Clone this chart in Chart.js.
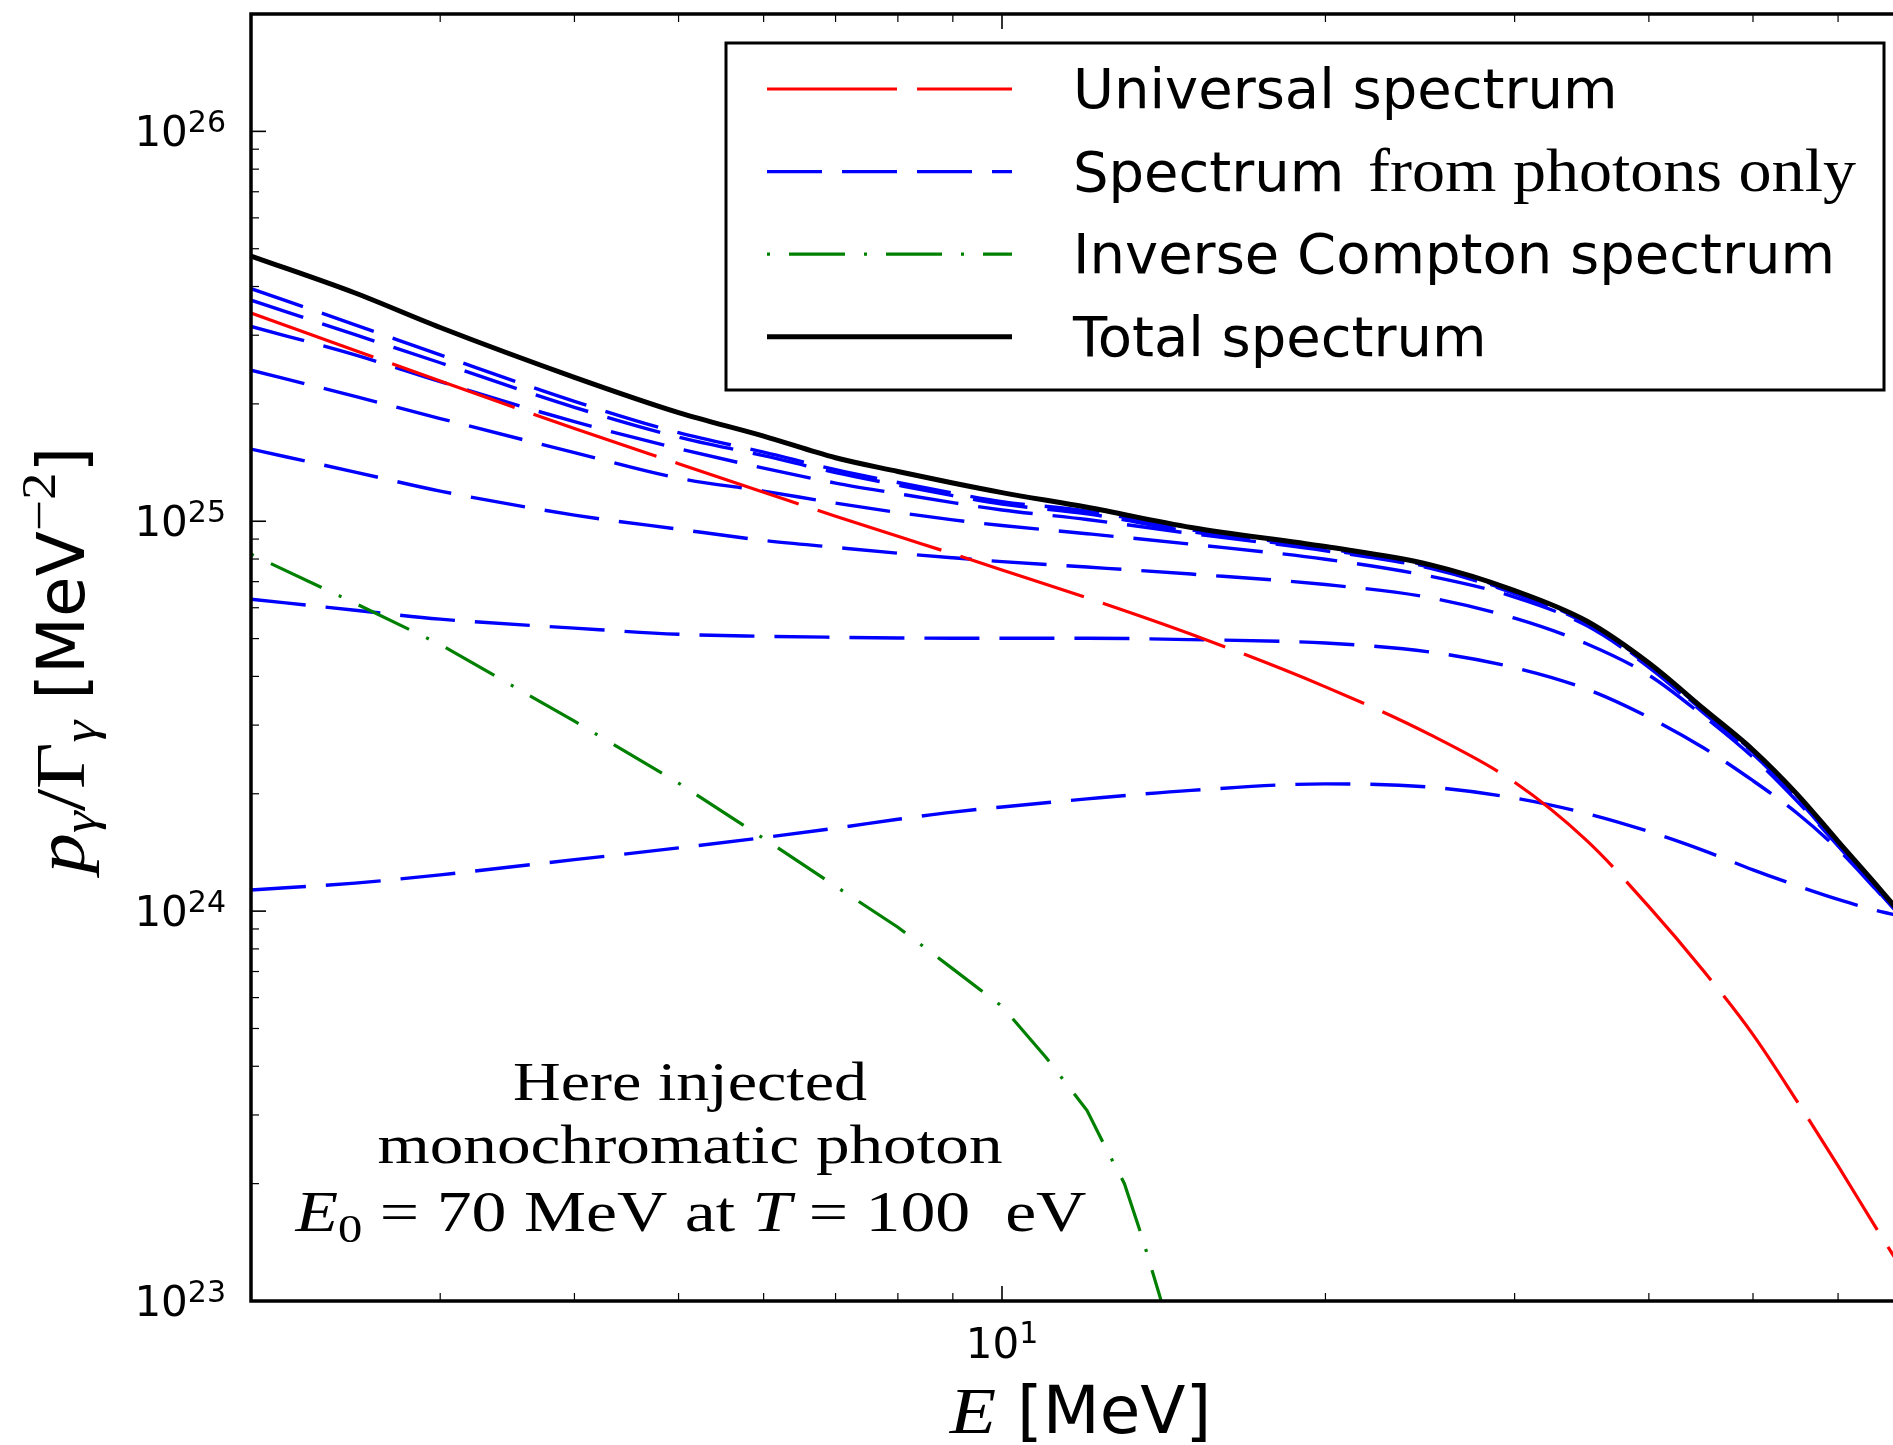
<!DOCTYPE html>
<html>
<head>
<meta charset="utf-8">
<title>Photon spectrum</title>
<script src="https://cdn.jsdelivr.net/npm/chart.js@4.4.1/dist/chart.umd.min.js"></script>
<style>
  html, body { margin: 0; padding: 0; background: #fff; overflow: hidden; }
  canvas { display: block; }
</style>
</head>
<body>
<canvas id="spectrum" width="1920" height="1445" style="width:1920px;height:1445px"></canvas>
<script>
// Photon energy grid, MeV
const energy = [2, 2.5, 3, 4, 5, 6, 7, 8, 9, 10, 12, 15, 20, 25, 30, 35, 40, 45, 50, 55, 60, 65, 70];

// p_gamma / Gamma_gamma, MeV^-2
const totalSpectrum = [4.79e25, 3.85e25, 3.14e25, 2.34e25, 1.90e25, 1.654e25, 1.455e25, 1.342e25, 1.253e25, 1.184e25, 1.086e25, 9.64e24, 8.61e24, 7.74e24, 6.64e24, 5.55e24, 4.33e24, 3.30e24, 2.59e24, 1.99e24, 1.51e24, 1.175e24, 9.25e23];
const universalSpectrum = [3.42e25, 2.74e25, 2.29e25, 1.729e25, 1.405e25, 1.187e25, 1.03e25, 9.15e24, 8.25e24, 7.50e24, 6.36e24, 5.13e24, 3.76e24, 2.84e24, 2.14e24, 1.518e24, 1.027e24, 7.01e23, 4.82e23, 3.24e23, 2.22e23, 1.55e23, 1.12e23];

// spectra from photons only, one curve per generation
const photonsA = [3.95e25, 3.19e25, 2.67e25, 2.03e25, 1.687e25, 1.504e25, 1.356e25, 1.257e25, 1.181e25, 1.123e25, 1.062e25, 9.50e24, 8.52e24, 7.68e24, 6.60e24, 5.53e24, 4.32e24, 3.29e24, 2.58e24, 1.98e24, 1.505e24, 1.168e24, 9.22e23];
const photonsB = [3.69e25, 3.01e25, 2.55e25, 1.96e25, 1.644e25, 1.473e25, 1.333e25, 1.238e25, 1.163e25, 1.106e25, 1.045e25, 9.40e24, 8.46e24, 7.63e24, 6.56e24, 5.49e24, 4.29e24, 3.27e24, 2.56e24, 1.97e24, 1.495e24, 1.163e24, 9.20e23];
const photonsC = [3.16e25, 2.67e25, 2.28e25, 1.80e25, 1.536e25, 1.369e25, 1.253e25, 1.177e25, 1.116e25, 1.069e25, 1.01e25, 9.30e24, 8.40e24, 7.58e24, 6.52e24, 5.46e24, 4.26e24, 3.25e24, 2.55e24, 1.96e24, 1.49e24, 1.158e24, 9.17e23];
const photonsD = [2.44e25, 2.09e25, 1.834e25, 1.50e25, 1.29e25, 1.195e25, 1.113e25, 1.053e25, 1.008e25, 9.75e24, 9.29e24, 8.73e24, 7.99e24, 7.23e24, 6.39e24, 5.40e24, 4.22e24, 3.22e24, 2.53e24, 1.94e24, 1.475e24, 1.15e24, 9.12e23];
const photonsE = [1.531e25, 1.337e25, 1.195e25, 1.037e25, 9.54e24, 8.93e24, 8.57e24, 8.28e24, 8.06e24, 7.88e24, 7.63e24, 7.32e24, 6.88e24, 6.37e24, 5.64e24, 4.85e24, 4.03e24, 3.16e24, 2.48e24, 1.91e24, 1.47e24, 1.145e24, 9.10e23];
const photonsF = [6.31e24, 5.91e24, 5.61e24, 5.32e24, 5.13e24, 5.07e24, 5.04e24, 5.02e24, 5.01e24, 5.01e24, 5.01e24, 4.97e24, 4.87e24, 4.62e24, 4.21e24, 3.71e24, 3.14e24, 2.62e24, 2.16e24, 1.78e24, 1.44e24, 1.14e24, 9.10e23];
const photonsG = [1.133e24, 1.18e24, 1.239e24, 1.355e24, 1.453e24, 1.544e24, 1.632e24, 1.72e24, 1.795e24, 1.85e24, 1.94e24, 2.04e24, 2.12e24, 2.08e24, 1.95e24, 1.78e24, 1.60e24, 1.43e24, 1.276e24, 1.161e24, 1.072e24, 1.005e24, 9.6e23];
const photonSpectra = [photonsA, photonsB, photonsC, photonsD, photonsE, photonsF, photonsG];

// inverse Compton part has its own grid, it falls off fast above 10 MeV
const energyIC = [2, 2.5, 3, 4, 5, 6, 7, 8, 9, 10, 11, 12, 12.5, 13, 13.5, 14, 14.5];
const inverseCompton = [8.23e24, 6.16e24, 4.83e24, 3.07e24, 2.13e24, 1.536e24, 1.158e24, 9.09e23, 7.11e23, 5.70e23, 4.20e23, 3.08e23, 2.46e23, 2.00e23, 1.46e23, 1.045e23, 7.5e22];

const yDecades = [23, 24, 25, 26];
const xLabelDecades = [1];

const SANS = '"DejaVu Sans"';
const SERIF = '"Liberation Serif"';

const points = (xs, ys) => xs.map((e, i) => ({ x: e, y: ys[i] }));

const blueStyle = { borderColor: '#0000ff', borderWidth: 3.4, borderDash: [55, 20] };
const redStyle = { borderColor: '#ff0000', borderWidth: 3.2, borderDash: [130, 20] };
const greenStyle = { borderColor: '#008000', borderWidth: 3.2, borderDash: [3, 19, 56, 19] };
const blackStyle = { borderColor: '#000000', borderWidth: 5, borderDash: [] };

const smooth = { cubicInterpolationMode: 'monotone' };

const datasets = [
  { label: 'Total spectrum', data: points(energy, totalSpectrum), order: 0, ...blackStyle, ...smooth },
  { label: 'Inverse Compton spectrum', data: points(energyIC, inverseCompton), order: 1, ...greenStyle },
  { label: 'Universal spectrum', data: points(energy, universalSpectrum), order: 2, ...redStyle, ...smooth }
];
photonSpectra.forEach((s, i) => {
  datasets.push({ label: 'Spectrum from photons only', data: points(energy, s), order: 3 + i, ...blueStyle, ...smooth });
});

// text made of runs with different fonts, offsets and horizontal stretch
function runsWidth(ctx, runs) {
  let w = 0;
  for (const r of runs) { ctx.font = r.font; w += ctx.measureText(r.text).width * (r.sx || 1); }
  return w;
}
function drawRuns(ctx, runs, x, y, align, fitWidth) {
  const w = runsWidth(ctx, runs);
  const k = fitWidth ? fitWidth / w : 1;
  let cx = align === 'center' ? x - w * k / 2 : align === 'right' ? x - w * k : x;
  ctx.textAlign = 'left';
  ctx.textBaseline = 'alphabetic';
  for (const r of runs) {
    ctx.font = r.font;
    const sx = (r.sx || 1) * k;
    ctx.save();
    ctx.translate(cx, y + (r.dy || 0));
    ctx.scale(sx, 1);
    ctx.fillText(r.text, 0, 0);
    ctx.restore();
    cx += ctx.measureText(r.text).width * sx;
  }
}

function tick(ctx, x1, y1, x2, y2) {
  ctx.beginPath();
  ctx.moveTo(x1, y1);
  ctx.lineTo(x2, y2);
  ctx.stroke();
}

const axesPlugin = {
  id: 'axesPlugin',
  afterDatasetsDraw(chart) {
    const { ctx, chartArea: a, scales: { x, y } } = chart;
    ctx.save();
    ctx.strokeStyle = '#000';
    ctx.fillStyle = '#000';

    // inward ticks on all four sides
    for (const d of yDecades) {
      for (let m = 1; m <= 9; m++) {
        const v = m * Math.pow(10, d);
        if (v < y.min || v > y.max) continue;
        const py = y.getPixelForValue(v);
        const len = m === 1 ? 15 : 8;
        ctx.lineWidth = m === 1 ? 1.6 : 1.2;
        tick(ctx, a.left, py, a.left + len, py);
        tick(ctx, a.right, py, a.right - len, py);
      }
    }
    for (let d = 0; d <= 1; d++) {
      for (let m = 1; m <= 9; m++) {
        const v = m * Math.pow(10, d);
        if (v <= x.min || v > x.max) continue;
        const px = x.getPixelForValue(v);
        const len = m === 1 ? 15 : 8;
        ctx.lineWidth = m === 1 ? 1.6 : 1.2;
        tick(ctx, px, a.bottom, px, a.bottom - len);
        tick(ctx, px, a.top, px, a.top + len);
      }
    }

    // frame
    ctx.lineWidth = 3.5;
    ctx.strokeRect(a.left, a.top, a.right - a.left, a.bottom - a.top);

    // tick labels 10^n
    for (const d of yDecades) {
      const py = y.getPixelForValue(Math.pow(10, d));
      drawRuns(ctx, [
        { text: '10', font: `42px ${SANS}` },
        { text: String(d), font: `30px ${SANS}`, dy: -14 }
      ], a.left - 25, py + 15, 'right');
    }
    for (const d of xLabelDecades) {
      const px = x.getPixelForValue(Math.pow(10, d));
      drawRuns(ctx, [
        { text: '10', font: `42px ${SANS}` },
        { text: String(d), font: `30px ${SANS}`, dy: -15 }
      ], px, a.bottom + 57, 'center');
    }
    ctx.restore();
  },
  afterDraw(chart) {
    const { ctx, chartArea: a } = chart;
    ctx.save();
    ctx.fillStyle = '#000';

    // axis titles
    drawRuns(ctx, [
      { text: 'E', font: `italic 66px ${SERIF}`, sx: 1.15 },
      { text: ' [MeV]', font: `66px ${SANS}` }
    ], (a.left + a.right) / 2, 1433, 'center');

    ctx.save();
    ctx.translate(84, 660);
    ctx.rotate(-Math.PI / 2);
    drawRuns(ctx, [
      { text: 'p', font: `italic 70px ${SERIF}`, sx: 1.15 },
      { text: 'γ', font: `italic 48px ${SERIF}`, sx: 1.15, dy: 12 },
      { text: '/', font: `70px ${SERIF}`, sx: 1.15 },
      { text: 'Γ', font: `70px ${SERIF}`, sx: 1.15 },
      { text: 'γ', font: `italic 48px ${SERIF}`, sx: 1.15, dy: 12 },
      { text: ' [MeV', font: `66px ${SANS}` },
      { text: '−2', font: `48px ${SERIF}`, sx: 1.15, dy: -29 },
      { text: ']', font: `66px ${SANS}` }
    ], 0, 0, 'center');
    ctx.restore();

    // legend
    const lx = a.right - 1184, ly = a.top + 29, lw = 1158, lh = 347;
    ctx.fillStyle = '#fff';
    ctx.fillRect(lx, ly, lw, lh);
    ctx.strokeStyle = '#000';
    ctx.lineWidth = 3;
    ctx.strokeRect(lx, ly, lw, lh);
    const entries = [
      { style: redStyle, label: 'Universal spectrum' },
      { style: blueStyle, label: 'Spectrum', extra: 'from photons only' },
      { style: greenStyle, label: 'Inverse Compton spectrum' },
      { style: blackStyle, label: 'Total spectrum' }
    ];
    entries.forEach((e, i) => {
      const ry = ly + 46 + i * 82.6;
      ctx.save();
      ctx.strokeStyle = e.style.borderColor;
      ctx.lineWidth = e.style.borderWidth;
      ctx.setLineDash(e.style.borderDash);
      ctx.lineCap = 'butt';
      tick(ctx, lx + 41, ry, lx + 286, ry);
      ctx.restore();
      ctx.fillStyle = '#000';
      drawRuns(ctx, [{ text: e.label, font: `56px ${SANS}` }], lx + 347, ry + 19, 'left');
      if (e.extra) {
        drawRuns(ctx, [{ text: e.extra, font: `62px ${SERIF}` }], lx + 642, ry + 19, 'left', 488);
      }
    });

    // note on the injected photon
    ctx.fillStyle = '#000';
    const nx = 690;
    drawRuns(ctx, [{ text: 'Here injected', font: `55px ${SERIF}` }], nx, 1100, 'center', 354);
    drawRuns(ctx, [{ text: 'monochromatic photon', font: `55px ${SERIF}` }], nx, 1163, 'center', 625);
    drawRuns(ctx, [
      { text: 'E', font: `italic 56px ${SERIF}` },
      { text: '0', font: `39px ${SERIF}`, dy: 11 },
      { text: ' = 70 MeV at ', font: `56px ${SERIF}` },
      { text: 'T', font: `italic 56px ${SERIF}` },
      { text: ' = 100  eV', font: `56px ${SERIF}` }
    ], nx + 1, 1231, 'center', 791);
    ctx.restore();
  }
};

const ctx = document.getElementById('spectrum').getContext('2d');
const spectrumChart = new Chart(ctx, {
  type: 'line',
  data: { datasets: datasets },
  options: {
    responsive: false,
    animation: false,
    devicePixelRatio: 1,
    layout: { padding: { left: 251, top: 14, right: 10, bottom: 144 } },
    elements: {
      point: { radius: 0, hoverRadius: 0 },
      line: { tension: 0, borderCapStyle: 'butt', fill: false }
    },
    plugins: {
      legend: { display: false },
      tooltip: { enabled: false }
    },
    scales: {
      x: { type: 'logarithmic', min: 2, max: 70, display: false },
      y: { type: 'logarithmic', min: 1e23, max: 2e26, display: false }
    }
  },
  plugins: [axesPlugin]
});
</script>
</body>
</html>
